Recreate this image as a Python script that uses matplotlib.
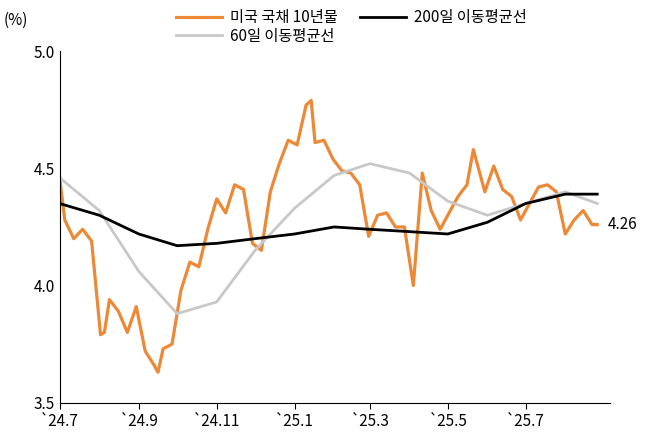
import matplotlib
matplotlib.use("Agg")
import matplotlib.pyplot as plt
import pandas as pd

plt.rcParams["font.family"] = ["Noto Sans CJK KR","Noto Sans CJK JP","Noto Sans CJK SC","DejaVu Sans"]

# US 10Y yield (weekly readings from picture)
ust_dates = pd.to_datetime([
 "2024-07-01","2024-07-05","2024-07-12","2024-07-19","2024-07-26","2024-08-02","2024-08-05","2024-08-09","2024-08-16",
 "2024-08-23","2024-08-30","2024-09-06","2024-09-13","2024-09-16","2024-09-20","2024-09-27","2024-10-04","2024-10-11",
 "2024-10-18","2024-10-25","2024-11-01","2024-11-08","2024-11-15","2024-11-22","2024-11-29","2024-12-06",
 "2024-12-13","2024-12-20","2024-12-27","2025-01-03","2025-01-10","2025-01-14","2025-01-17","2025-01-24","2025-01-31",
 "2025-02-07","2025-02-14","2025-02-21","2025-02-28","2025-03-07","2025-03-14","2025-03-21","2025-03-28",
 "2025-04-04","2025-04-11","2025-04-18","2025-04-25","2025-05-02","2025-05-09","2025-05-16","2025-05-21","2025-05-30",
 "2025-06-06","2025-06-13","2025-06-20","2025-06-27","2025-07-04","2025-07-11","2025-07-18","2025-07-25",
 "2025-08-01","2025-08-08","2025-08-15","2025-08-22","2025-08-26"])
ust_vals = [4.46,4.28,4.20,4.24,4.19,3.79,3.80,3.94,3.89,
 3.80,3.91,3.72,3.66,3.63,3.73,3.75,3.98,4.10,
 4.08,4.24,4.37,4.31,4.43,4.41,4.18,4.15,
 4.40,4.52,4.62,4.60,4.77,4.79,4.61,4.62,4.54,
 4.49,4.48,4.43,4.21,4.30,4.31,4.25,4.25,
 4.00,4.48,4.32,4.24,4.31,4.38,4.43,4.58,4.40,
 4.51,4.41,4.38,4.28,4.35,4.42,4.43,4.40,
 4.22,4.28,4.32,4.26,4.26]

ma200_dates = pd.to_datetime(["2024-07-01","2024-08-01","2024-09-01","2024-10-01","2024-11-01","2024-12-01",
 "2025-01-01","2025-02-01","2025-03-01","2025-04-01","2025-05-01","2025-06-01","2025-07-01","2025-08-01","2025-08-26"])
ma200_vals = [4.35,4.30,4.22,4.17,4.18,4.20,4.22,4.25,4.24,4.23,4.22,4.27,4.35,4.39,4.39]

ma60_dates = ma200_dates
ma60_vals = [4.46,4.32,4.06,3.88,3.93,4.15,4.33,4.47,4.52,4.48,4.36,4.30,4.35,4.40,4.35]

tick_dates = pd.to_datetime(["2024-07-01","2024-09-01","2024-11-01","2025-01-01","2025-03-01","2025-05-01","2025-07-01"])
tick_labels = ["`24.7","`24.9","`24.11","`25.1","`25.3","`25.5","`25.7"]

fig = plt.figure(figsize=(6.63,4.45), dpi=100)
ax = fig.add_axes([0.09,0.095,0.83,0.79])
l1, = ax.plot(ust_dates, ust_vals, color="#ED8936", lw=2.3, label="미국 국채 10년물")
l3, = ax.plot(ma60_dates, ma60_vals, color="#C8C8C8", lw=2, label="60일 이동평균선")
l2, = ax.plot(ma200_dates, ma200_vals, color="black", lw=2, label="200일 이동평균선")
ax.set_ylim(3.5,5.0)
ax.set_yticks([3.5,4.0,4.5,5.0])
ax.set_yticklabels(["3.5","4.0","4.5","5.0"])
ax.set_xlim(pd.Timestamp("2024-07-01"), pd.Timestamp("2025-09-05"))
ax.set_xticks(tick_dates)
ax.set_xticklabels(tick_labels)
ax.tick_params(labelsize=11, length=4, direction="out")
ax.tick_params(axis="y", length=0)
for s in ["top","right"]:
    ax.spines[s].set_visible(False)
ax.text(ust_dates[-1] + pd.Timedelta(days=8), ust_vals[-1], f"{ust_vals[-1]:.2f}", fontsize=11, va="center")
fig.text(0.005, 0.945, "(%)", fontsize=11)
fig.legend(handles=[l1,l3,l2], loc="upper center", bbox_to_anchor=(0.53,1.01), ncol=2, frameon=False,
           fontsize=11, handlelength=3, columnspacing=1.5, handletextpad=0.5, labelspacing=0.1)
fig.savefig("out.png", dpi=100)
